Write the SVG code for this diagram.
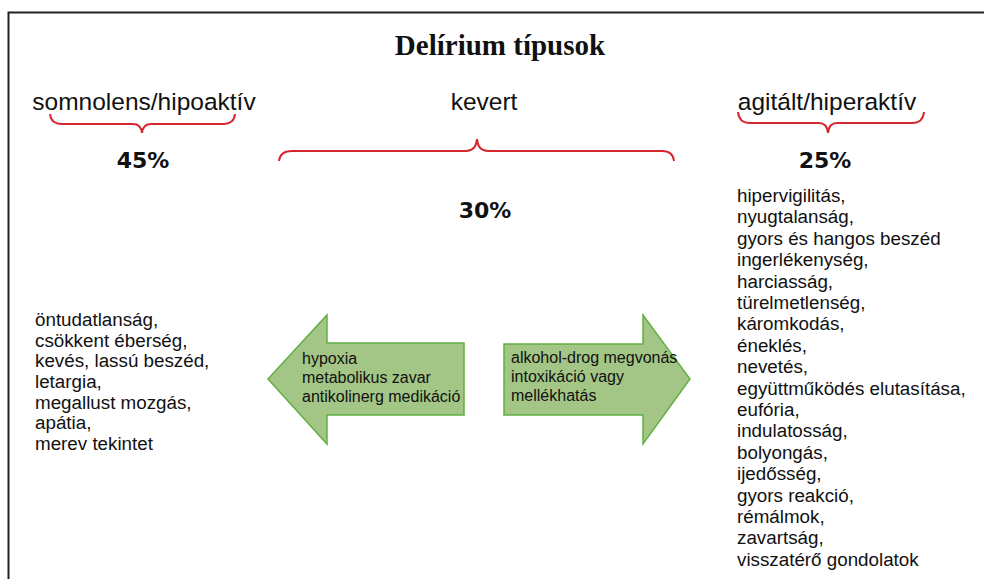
<svg xmlns="http://www.w3.org/2000/svg" width="984" height="579" viewBox="0 0 984 579">
<style>
.t{font-family:"Liberation Sans",Arial,sans-serif;fill:#111;}
.h{font-size:24.5px;}
.p{font-family:"DejaVu Sans",sans-serif;font-size:22px;font-weight:bold;}
.l{font-size:18.8px;}
.a{font-size:16px;}
.brace{fill:none;stroke:#d7262d;stroke-width:2;}
.arrow{fill:#a3c686;stroke:#62b043;stroke-width:1.5;}
</style>
<rect x="8.5" y="12.5" width="990" height="600" fill="#fff" stroke="#222" stroke-width="2"/>
<text x="500" y="55" text-anchor="middle" style="font-family:'Liberation Serif','Times New Roman',serif;font-size:29px;font-weight:bold;fill:#111">Delírium típusok</text>
<g id="hipo">
<text class="t h" x="144" y="110" text-anchor="middle">somnolens/hipoaktív</text>
<path class="brace" d="M50,114 Q51,124 62,124 L133,124 Q141,124 142,133 Q143,124 151,124 L223,124 Q234,124 235,114"/>
<text class="t p" x="143" y="168" text-anchor="middle">45%</text>
<text class="t l" x="35" y="326">öntudatlanság,</text>
<text class="t l" x="35" y="347">csökkent éberség,</text>
<text class="t l" x="35" y="367">kevés, lassú beszéd,</text>
<text class="t l" x="35" y="388">letargia,</text>
<text class="t l" x="35" y="409">megallust mozgás,</text>
<text class="t l" x="35" y="429">apátia,</text>
<text class="t l" x="35" y="450">merev tekintet</text>
</g>
<g id="kevert">
<text class="t h" x="484" y="110" text-anchor="middle">kevert</text>
<path class="brace" d="M279,161 Q280,151 292,151 L466,151 Q476,151 477,139 Q478,151 488,151 L662,151 Q673,151 674,161"/>
<text class="t p" x="485" y="218" text-anchor="middle">30%</text>
</g>
<g id="hiper">
<text class="t h" x="827" y="110" text-anchor="middle">agitált/hiperaktív</text>
<path class="brace" d="M738,112 Q739,123 750,123 L819,123 Q827,123 828,133 Q829,123 837,123 L912,123 Q923,123 924,112"/>
<text class="t p" x="825" y="168" text-anchor="middle">25%</text>
<g class="t l">
<text x="737" y="202">hipervigilitás,</text>
<text x="737" y="223.4">nyugtalanság,</text>
<text x="737" y="244.8">gyors és hangos beszéd</text>
<text x="737" y="266.2">ingerlékenység,</text>
<text x="737" y="287.6">harciasság,</text>
<text x="737" y="309">türelmetlenség,</text>
<text x="737" y="330.4">káromkodás,</text>
<text x="737" y="351.8">éneklés,</text>
<text x="737" y="373.2">nevetés,</text>
<text x="737" y="394.6">együttműködés elutasítása,</text>
<text x="737" y="416">eufória,</text>
<text x="737" y="437.4">indulatosság,</text>
<text x="737" y="458.8">bolyongás,</text>
<text x="737" y="480.2">ijedősség,</text>
<text x="737" y="501.6">gyors reakció,</text>
<text x="737" y="523">rémálmok,</text>
<text x="737" y="544.4">zavartság,</text>
<text x="737" y="565.8">visszatérő gondolatok</text>
</g>
</g>
<g id="arrow-left">
<polygon class="arrow" points="268,379 327,315 327,343 464,343 464,415 327,415 327,444"/>
<text class="t a" x="302" y="364">hypoxia</text>
<text class="t a" x="302" y="383">metabolikus zavar</text>
<text class="t a" x="302" y="402">antikolinerg medikáció</text>
</g>
<g id="arrow-right">
<polygon class="arrow" points="504,344 643,344 643,315 690,379 643,444 643,415 504,415"/>
<text class="t a" x="511" y="363">alkohol-drog megvonás</text>
<text class="t a" x="511" y="382">intoxikáció vagy</text>
<text class="t a" x="511" y="401">mellékhatás</text>
</g>
</svg>
